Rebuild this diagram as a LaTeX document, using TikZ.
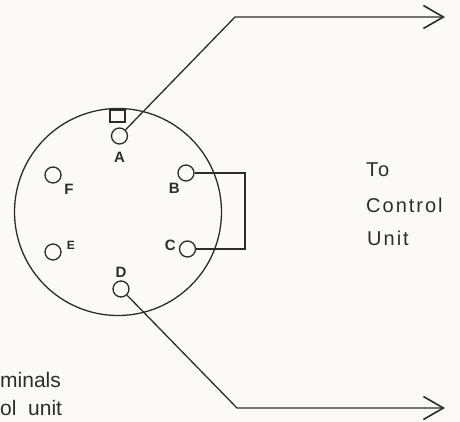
\documentclass[tikz,border=0pt]{standalone}
\usepackage{fontspec}
\setmainfont{Liberation Sans}
\newfontfamily\spacedfont[LetterSpace=10]{Liberation Sans}
\usetikzlibrary{arrows.meta,positioning}
\definecolor{paper}{HTML}{FBFAF6}
\definecolor{ink}{HTML}{2C2C2C}
\begin{document}
\begin{tikzpicture}[x=1pt,y=-1pt, line/.style={draw=ink,line width=1.3pt}, arrowline/.style={line,-{Straight Barb[length=20pt,width=23pt,line width=1.6pt]}}, socket/.style={circle,draw=ink,line width=1.3pt,minimum size=16pt,inner sep=0pt}, letter/.style={text=ink,font=\fontsize{15}{15}\selectfont\bfseries,inner sep=0pt}, smallletter/.style={text=ink,font=\fontsize{12}{12}\selectfont\bfseries,inner sep=0pt}, caption/.style={text=ink,font=\spacedfont\fontsize{20}{20}\selectfont,inner sep=0pt}, cutoff/.style={text=ink,font=\fontsize{21}{21}\selectfont,inner sep=0pt,anchor=base west}]
\fill[paper] (0,0) rectangle (460,422);
\useasboundingbox (0,0) rectangle (460,422);
\node[circle,line,minimum size=207pt,inner sep=0pt] (shell) at (118,212) {};
\node[rectangle,line,minimum width=15pt,minimum height=12pt,inner sep=0pt] (keyway) at (117.5,116) {};
\node[socket] (pinA) at (119.5,136) {};
\node[socket] (pinB) at (186,173) {};
\node[socket] (pinC) at (187.5,249) {};
\node[socket] (pinD) at (121,289) {};
\node[socket] (pinE) at (53,252) {};
\node[socket] (pinF) at (53,175) {};
\node[letter,below=7pt of pinA] (labelA) {A};
\node[letter,below left=4pt and 0pt of pinB] (labelB) {B};
\node[letter,left=3pt of pinC,yshift=4pt] (labelC) {C};
\node[letter,above=3pt of pinD] (labelD) {D};
\node[smallletter,right=5pt of pinE,yshift=7pt] (labelE) {E};
\node[letter,below right=3pt and 5pt of pinF] (labelF) {F};
\coordinate (cornerA) at (235,17);
\coordinate (endA) at (445,17);
\coordinate (cornerD) at (237,408);
\coordinate (endD) at (445,408);
\coordinate (bendB) at (245,173);
\coordinate (bendC) at (245,249);
\draw[arrowline] (pinA) -- (cornerA) -- (endA);
\draw[arrowline] (pinD) -- (cornerD) -- (endD);
\draw[line] (pinB) -- (bendB) -- (bendC) -- (pinC);
\node[caption,anchor=base west] (unitTo) at (366,177) {To};
\node[caption,below=35pt of unitTo.base west,anchor=base west] (unitControl) {Control};
\node[caption,below=33pt of unitControl.base west,anchor=base west,xshift=1pt] (unitName) {Unit};
\node[cutoff] (cutTerminals) at (0,387) {minals};
\node[cutoff] (cutControl) at (0,415) {ol\ \ unit};
\end{tikzpicture}
\end{document}
